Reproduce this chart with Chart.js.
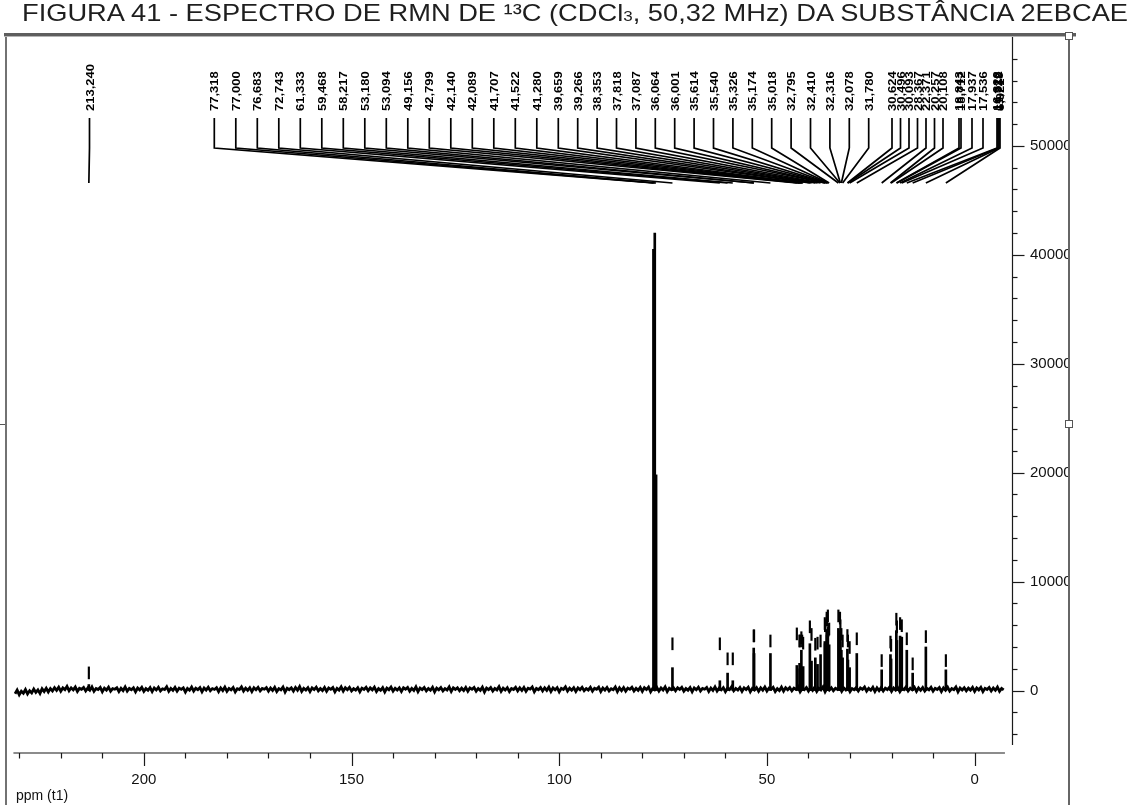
<!DOCTYPE html>
<html>
<head>
<meta charset="utf-8">
<script src="https://cdn.jsdelivr.net/npm/chart.js@4.4.1/dist/chart.umd.min.js"></script>
<style>
  html, body { margin: 0; padding: 0; background: #fff; }
  #wrap { position: relative; width: 1136px; height: 805px; overflow: hidden; }
  #c { position: absolute; left: 0; top: 0; }
  #title {
    position: absolute; left: 22px; top: 1px; white-space: nowrap;
    font-family: "Liberation Sans", Arial, sans-serif; font-size: 24px; line-height: 24px;
    color: #1e1e1e; transform-origin: 0 0;
  }
  #title .idx { font-size: 15px; }
  .rule { position: absolute; }
  .handle { position: absolute; width: 6px; height: 6px; background: #fff; border: 1px solid #555; }
</style>
</head>
<body>
<div id="wrap">
  <canvas id="c" width="1069" height="805"></canvas>
  <div id="title">FIGURA 41 - ESPECTRO DE RMN DE ¹³C (CDCl<span class="idx">3</span>, 50,32 MHz) DA SUBSTÂNCIA 2EBCAE</div>
  <div class="rule" style="left:4px;top:33px;width:1072px;height:3px;background:#5e5e5e"></div>
  <div class="rule" style="left:4px;top:36px;width:1072px;height:1px;background:#b4b4b4"></div>
  <div class="rule" style="left:5px;top:37px;width:2px;height:768px;background:#727272"></div>
  <div class="rule" style="left:0;top:424px;width:5px;height:1px;background:#555"></div>
  <div class="rule" style="left:1068px;top:36px;width:2px;height:769px;background:#666"></div>
  <div class="handle" style="left:1065px;top:32px"></div>
  <div class="handle" style="left:1065px;top:420px"></div>
</div>
<script>
// Picked 13C lines (ppm) and their intensities
const peakPpm = [
  213.240,
  77.318, 77.000, 76.683, 72.743, 61.333, 59.468, 58.217, 53.180, 53.094, 49.156,
  42.799, 42.140, 42.089, 41.707, 41.522, 41.280, 39.659, 39.266, 38.353, 37.818,
  37.087, 36.064, 36.001, 35.614, 35.540, 35.326, 35.174, 35.018, 32.795, 32.410,
  32.316, 32.078, 31.780,
  30.624, 30.496, 30.093, 28.367, 22.371, 20.257, 20.108,
  18.843, 18.712, 17.937, 17.536, 16.328, 14.912, 11.738, 6.921
];
const peakHeight = [
  550,
  40500, 42000, 19800, 2100, 900, 1600, 900, 3900, 3400, 3400,
  2300, 2500, 2000, 3700, 1800, 2200, 4300, 2700, 3000, 2400,
  3300, 4500, 4300, 5600, 5100, 5800, 3900, 4200, 5700, 5500,
  4500, 3700, 3000,
  3800, 2800, 2100, 3400, 1900, 3300, 2900,
  5500, 4600, 5000, 4900, 3700, 1600, 4000, 1900
];
// lower end of the peak-pick mark drawn above each line (null = no mark)
const markBase = [
  1070,
  null, null, null, 3740, 3740, 2360, 2360, 4470, 4470, 4000,
  4650, 4000, 4000, 4300, 4000, 3800, 5300, 4600, 3700, 3800,
  4000, 5600, 5400, 6100, 5900, 6300, 5000, 5100, 6300, 6100,
  5400, 4600, 4000,
  4500, 4000, 3400, 4200, 2200, 3900, 3600,
  6000, 5300, 5600, 5400, 4200, 1900, 4400, 2200
];
const markLength = 1100;

// baseline noise sampled every 0.5 ppm from 231 ppm downwards
const baselineStart = 231;
const baselineStep = 0.5;
const baselineNoise = [
  -300, 40, -380, -60, -250, 90, -310, -20, -220, 130, -170, 60, -260, 160, -90, 210, -130, 180, -40, 260,
  20, 300, -60, 240, 80, 380, -20, 250, 60, 320, -80, 200, 110, 290, -40, 230, 30, 340, -70, 190,
  90, 280, -110, 220, 40, 310, -60, 170, 120, 260, -90, 210, 0, 330, -50, 190, 70, 250, -120, 230,
  60, 290, -80, 180, 20, 270, -100, 240, 50, 300, -30, 160, 90, 350, -70, 200, 10, 280, -60, 220,
  110, 250, -140, 190, 30, 320, -50, 210, 80, 270, -110, 230, 40, 300, -20, 180, 100, 260, -90, 240,
  0, 310, -70, 200, 60, 280, -120, 170, 90, 340, -40, 220, 20, 260, -100, 250, 70, 290, -30, 190,
  120, 270, -60, 230, 10, 300, -90, 180, 60, 320, -130, 210, 80, 250, -50, 280, 30, 360, -80, 200,
  50, 260, -100, 240, 90, 310, -30, 190, 0, 280, -70, 230, 110, 270, -120, 200, 40, 330, -60, 250,
  70, 290, -40, 170, 30, 260, -110, 220, 100, 300, -20, 240, 60, 310, -90, 180, 20, 270, -130, 230,
  80, 320, -50, 210, 40, 250, -80, 260, 120, 290, -60, 200, 10, 340, -100, 230, 90, 280, -30, 190,
  30, 300, -120, 220, 70, 270, -40, 180, 50, 330, -90, 250, 100, 260, -20, 210, 0, 290, -70, 240,
  110, 280, -60, 190, 20, 310, -130, 230, 80, 270, -50, 200, 60, 350, -80, 220, 40, 260, -100, 180,
  90, 300, -30, 240, 10, 290, -70, 210, 130, 320, -110, 190, 70, 280, -40, 250, 20, 310, -90, 230,
  60, 270, -120, 200, 100, 340, -50, 220, 30, 260, -80, 240, 80, 300, -20, 180, 50, 290, -60, 210,
  120, 310, -90, 230, 40, 280, -30, 170, 70, 330, -100, 250, 0, 270, -60, 220, 110, 300, -40, 200,
  20, 290, -70, 260, 90, 320, -120, 190, 60, 280, -50, 230, 40, 340, -90, 210, 80, 260, -20, 250,
  100, 300, -60, 180, 30, 270, -110, 240, 70, 310, -40, 200, 120, 290, -80, 230, 10, 330, -50, 220,
  60, 260, -100, 210, 80, 350, -30, 190, 40, 280, -70, 250, 90, 300, -120, 200, 50, 270, -60, 240,
  30, 320, -40, 230, 110, 290, -90, 170, 0, 310, -60, 260, 70, 280, -30, 220, 100, 340, -110, 190,
  80, 270, -50, 250, 20, 300, -80, 210, 60, 330, -120, 230, 40, 260, -20, 200, 90, 310, -70, 240,
  50, 290, -100, 180, 70, 280, -40, 240, 110, 320, -60, 200, 30, 300, -90, 250, 0, 270, -50, 210,
  90, 310, -70, 230, 40, 260, -110, 190, 80, 340, -30, 220, 60, 290, -80, 240, 20, 280, -40, 200,
  70, 300, -60, 210, 100, 270, -90, 250, 30, 310, -50, 180, 80, 330, -110, 230, 50, 260, -30, 220,
  40, 290, -80, 240, 60, 300, -100, 200, 90, 280, -40, 230, 20, 310, -70, 190, 60
];

// axis tick values
const xTickLabels = [200, 150, 100, 50, 0];
const yTickLabels = [0, 10000, 20000, 30000, 40000, 50000];

// label columns along the top: [first peak index, count, x of first column, column spacing]
const labelColumns = [
  [0, 1, 89.5, 0],
  [1, 17, 214.3, 21.5],
  [18, 16, 577.7, 19.4],
  [34, 7, 892, 8.5],
  [41, 2, 959, 2],
  [43, 2, 972, 11],
  [45, 4, 997, 1]
];

const FONT = 'Liberation Sans, Arial, sans-serif';

// stretch the heading across the top
(function () {
  const t = document.getElementById('title');
  const w = t.getBoundingClientRect().width;
  t.style.transform = 'scaleX(' + (1106 / w) + ')';
})();

const baselinePoints = baselineNoise.map((v, i) => ({ x: baselineStart - i * baselineStep, y: v }));
const peakPoints = peakPpm.map((p, i) => ({ x: p, y: peakHeight[i] }));
const markPoints = [];
peakPpm.forEach((p, i) => {
  if (markBase[i] !== null) markPoints.push({ x: p, y: [markBase[i], markBase[i] + markLength] });
});

const labelX = [];
labelColumns.forEach(([first, count, x0, step]) => {
  for (let k = 0; k < count; k++) labelX[first + k] = x0 + k * step;
});

const spectrumDecor = {
  id: 'spectrumDecor',
  afterDraw(chart) {
    const ctx = chart.ctx;
    const xs = chart.scales.x, ys = chart.scales.y;
    const area = chart.chartArea;

    ctx.save();
    ctx.strokeStyle = '#1a1a1a';
    ctx.lineWidth = 1.2;

    // ppm axis
    const axisY = 753;
    ctx.beginPath();
    ctx.moveTo(xs.getPixelForValue(231.4), axisY);
    ctx.lineTo(xs.getPixelForValue(-7.3), axisY);
    ctx.stroke();
    for (let v = 230; v >= 0; v -= 10) {
      const px = Math.round(xs.getPixelForValue(v)) + 0.5;
      const len = xTickLabels.includes(v) ? 13 : 5.5;
      ctx.beginPath();
      ctx.moveTo(px, axisY);
      ctx.lineTo(px, axisY + len);
      ctx.stroke();
    }

    // intensity axis
    const axisX = area.right + 0.5;
    ctx.beginPath();
    ctx.moveTo(axisX, ys.getPixelForValue(60000));
    ctx.lineTo(axisX, ys.getPixelForValue(-5000));
    ctx.stroke();
    for (let v = -4000; v <= 58000; v += 2000) {
      const py = Math.round(ys.getPixelForValue(v)) + 0.5;
      const len = yTickLabels.includes(v) ? 12 : 5;
      ctx.beginPath();
      ctx.moveTo(axisX, py);
      ctx.lineTo(axisX + len, py);
      ctx.stroke();
    }

    ctx.fillStyle = '#111';
    ctx.font = '14px ' + FONT;
    ctx.textBaseline = 'middle';
    ctx.textAlign = 'left';
    ctx.fillText('ppm (t1)', 16, 796);

    // peak labels with their leader lines
    ctx.lineWidth = 1.7;
    ctx.strokeStyle = '#000';
    peakPpm.forEach((p, i) => {
      const xl = labelX[i];
      const xp = xs.getPixelForValue(p);
      ctx.beginPath();
      ctx.moveTo(xl, 118);
      ctx.lineTo(xl, 148);
      ctx.lineTo(xp, 183);
      ctx.stroke();

      ctx.save();
      ctx.translate(xl, 111);
      ctx.rotate(-Math.PI / 2);
      ctx.scale(1, 0.9);
      ctx.fillStyle = '#000';
      ctx.font = 'bold 13px ' + FONT;
      ctx.textAlign = 'left';
      ctx.textBaseline = 'middle';
      ctx.fillText(p.toFixed(3).replace('.', ','), 0, 1);
      ctx.restore();
    });
    ctx.restore();
  }
};

new Chart(document.getElementById('c'), {
  type: 'line',
  data: {
    datasets: [
      {
        type: 'bar', data: peakPoints, backgroundColor: '#000', borderWidth: 0,
        barThickness: 2, grouped: false
      },
      {
        type: 'bar', data: markPoints, backgroundColor: '#000', borderWidth: 0,
        barThickness: 1.5, grouped: false
      },
      {
        type: 'line', data: baselinePoints, borderColor: '#000', borderWidth: 2.8,
        pointRadius: 0, tension: 0, fill: false
      }
    ]
  },
  options: {
    responsive: false,
    animation: false,
    devicePixelRatio: 1,
    layout: { padding: { left: 13, top: 37, right: 0, bottom: 0 } },
    plugins: { legend: { display: false }, tooltip: { enabled: false }, title: { display: false } },
    scales: {
      x: {
        type: 'linear', reverse: true, min: -9, max: 231.5, offset: false,
        grid: { display: false, drawTicks: false }, border: { display: false },
        afterBuildTicks: s => { s.ticks = xTickLabels.map(v => ({ value: v })); },
        ticks: {
          autoSkip: false, maxRotation: 0, padding: 26,
          color: '#111', font: { family: FONT, size: 15 },
          callback: v => String(v)
        },
        afterFit: s => { s.height = 60; }
      },
      y: {
        type: 'linear', position: 'right', min: -5000, max: 60000,
        grid: { display: false, drawTicks: false }, border: { display: false },
        afterBuildTicks: s => { s.ticks = yTickLabels.map(v => ({ value: v })); },
        ticks: {
          autoSkip: false, padding: 18,
          color: '#111', font: { family: FONT, size: 15 },
          callback: v => String(v)
        },
        afterFit: s => { s.width = 57; }
      }
    }
  },
  plugins: [spectrumDecor]
});
</script>
</body>
</html>
